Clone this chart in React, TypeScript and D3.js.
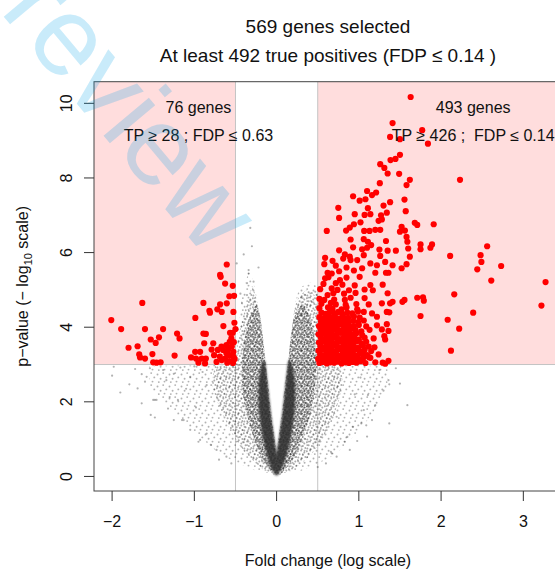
import React from "react";
import * as d3 from "d3";

// ---------- data ----------
const xTicks = [-2, -1, 0, 1, 2, 3];
const yTicks = [0, 2, 4, 6, 8, 10];
const xTickLabels = ["\u22122", "\u22121", "0", "1", "2", "3"];
const yTickLabels = ["0", "2", "4", "6", "8", "10"];
const fcCut = [-0.5, 0.5];
const pCut = 3;

const titleLines = ["569 genes selected", "At least 492 true positives (FDP \u2264 0.14 )"];
const leftNote = ["76 genes", "TP \u2265 28 ; FDP \u2264 0.63"];
const rightNote = ["493 genes", "TP \u2265 426 ;  FDP \u2264 0.14"];
const xLabel = "Fold change (log scale)";

// red (selected) genes: [log fold change, -log10 p]
const redLeft: [number, number][] = [
  [-0.606, 5.68], [-0.687, 5.4], [-0.68, 5.35], [-0.626, 5.17], [-0.533, 5.11], [-0.574, 4.83], [-0.517, 4.84],
  [-1.633, 4.65], [-0.89, 4.65], [-0.687, 4.61], [-0.606, 4.64], [-0.72, 4.48], [-0.667, 4.41], [-0.817, 4.44],
  [-0.81, 4.39], [-0.525, 4.41], [-0.988, 4.25], [-2.01, 4.19], [-0.513, 4.12], [-0.647, 4.03], [-1.89, 3.95],
  [-1.6, 3.95], [-1.38, 3.95], [-1.21, 3.83], [-1.18, 3.7], [-1.43, 3.73], [-1.53, 3.67], [-1.47, 3.58],
  [-0.89, 3.83], [-0.86, 3.82], [-0.566, 3.85], [-0.533, 3.85], [-1.8, 3.45], [-1.67, 3.27], [-1.66, 3.19],
  [-1.6, 3.16], [-1.5, 3.06], [-1.46, 3.05], [-1.41, 3.06], [-1.24, 3.24], [-0.77, 3.57], [-0.88, 3.57],
  [-0.99, 3.34], [-0.93, 3.34], [-1.04, 3.19], [-0.98, 3.16], [-0.91, 3.16], [-0.86, 3.16], [-0.95, 3.05],
  [-0.87, 3.03], [-0.79, 3.4], [-0.73, 3.07], [-0.69, 3.21], [-0.65, 3.39], [-0.67, 3.48], [-0.61, 3.52],
  [-0.57, 3.61], [-0.545, 3.48], [-0.59, 3.39], [-0.61, 3.3], [-0.57, 3.25], [-0.525, 3.21], [-0.626, 3.16],
  [-0.667, 3.12], [-0.574, 3.09], [-0.525, 3.34], [-0.715, 3.39], [-0.53, 3.04], [-0.55, 3.7], [-0.6, 3.05],
  [-0.76, 3.25], [-0.52, 3.6], [-1.69, 3.49], [-1.51, 3.28], [-0.5, 3.95], [-0.51, 3.15]
];

const redRight: [number, number][] = [
  // sparse upper part
  [1.63, 10.17], [1.41, 9.47], [1.77, 9.28], [1.38, 9.1], [1.5, 9.04], [1.84, 8.92], [1.5, 8.62], [1.445, 8.51],
  [1.385, 8.48], [1.26, 8.37], [1.31, 8.27], [1.35, 8.12], [1.49, 8.11], [1.62, 7.95], [1.58, 7.81], [1.255, 7.86],
  [2.23, 7.95], [0.93, 7.51], [1.1, 7.65], [1.16, 7.54], [1.21, 7.61], [1.01, 7.39], [1.08, 7.43], [1.38, 7.35],
  [1.555, 7.42], [1.3, 7.26], [0.75, 7.2], [1.11, 7.19], [1.57, 7.11], [1.34, 7.07], [0.95, 7.03], [1.07, 7.01],
  [1.14, 7.03], [1.27, 7.0], [0.76, 6.93], [1.28, 6.89], [1.24, 6.85], [1.02, 6.81], [1.68, 6.8], [1.71, 6.74],
  [1.91, 6.76], [0.61, 6.58], [0.845, 6.59], [0.89, 6.67], [0.94, 6.76], [1.065, 6.58], [1.13, 6.58], [1.2, 6.61],
  [1.26, 6.61], [1.5, 6.56], [1.52, 6.69], [1.56, 6.59], [1.58, 6.42], [0.9, 6.35], [1.06, 6.36], [1.11, 6.29],
  [1.33, 6.31], [1.59, 6.29], [1.75, 6.22], [1.89, 6.22], [2.56, 6.17], [0.76, 6.06], [0.83, 5.95], [0.93, 6.14],
  [1.04, 6.09], [1.1, 6.13], [1.15, 6.2], [1.25, 6.08], [1.35, 6.05], [1.45, 6.05], [1.6, 6.11], [1.75, 6.09],
  [1.87, 6.13], [2.11, 5.91], [2.48, 5.93], [0.59, 5.86],
  [2.49, 5.75], [2.44, 5.55], [2.73, 5.64], [2.61, 5.25], [3.27, 5.21], [2.16, 4.88], [3.22, 4.58], [2.39, 4.39],
  [2.08, 4.2], [2.22, 3.96], [2.12, 3.37], [1.75, 4.3], [1.71, 4.79], [1.79, 4.71], [1.78, 4.8], [1.555, 4.73],
  [1.53, 4.68], [1.41, 4.68], [1.38, 4.64], [1.35, 4.91], [1.29, 5.14], [1.36, 5.46], [1.33, 5.46], [1.2, 5.46],
  [1.52, 5.58], [1.58, 5.69], [1.62, 5.89], [1.41, 5.66], [1.32, 5.75], [1.26, 5.91], [1.06, 5.93], [1.14, 5.71],
  [1.22, 5.66], [0.98, 5.8], [0.58, 5.69], [0.67, 5.44], [0.59, 5.31], [0.77, 5.26], [0.81, 5.84],
  [0.89, 5.89], [1.14, 5.13], [1.17, 4.99], [1.28, 4.64], [1.34, 4.41], [1.37, 4.4], [1.22, 4.28], [1.16, 4.37],
  [1.06, 4.41], [1.12, 4.61], [1.34, 4.08], [1.28, 3.94], [1.36, 3.9], [1.31, 3.76], [1.32, 3.67], [1.19, 3.46],
  [1.14, 3.18], [1.36, 3.1], [1.32, 3.02],
  // dense block near the thresholds
  [0.52, 3.04], [0.565, 3.07], [0.61, 3.03], [0.655, 3.06], [0.7, 3.05], [0.745, 3.08], [0.79, 3.03], [0.835, 3.06],
  [0.88, 3.04], [0.925, 3.07], [0.97, 3.05], [1.02, 3.09], [1.08, 3.04], [1.2, 3.06], [1.29, 3.05],
  [0.505, 3.15], [0.545, 3.18], [0.59, 3.14], [0.635, 3.17], [0.68, 3.13], [0.725, 3.16], [0.77, 3.19], [0.815, 3.14],
  [0.86, 3.17], [0.905, 3.15], [0.95, 3.18], [0.995, 3.13], [1.05, 3.16], [1.12, 3.2],
  [0.53, 3.27], [0.575, 3.24], [0.62, 3.28], [0.665, 3.25], [0.71, 3.29], [0.755, 3.24], [0.8, 3.27], [0.845, 3.25],
  [0.89, 3.29], [0.94, 3.26], [0.985, 3.23], [1.04, 3.28], [1.1, 3.25], [1.24, 3.27],
  [0.51, 3.37], [0.555, 3.4], [0.6, 3.36], [0.645, 3.39], [0.69, 3.35], [0.735, 3.38], [0.78, 3.41], [0.825, 3.36],
  [0.87, 3.39], [0.915, 3.37], [0.96, 3.4], [1.01, 3.35], [1.07, 3.39], [1.15, 3.36],
  [0.535, 3.49], [0.58, 3.46], [0.625, 3.5], [0.67, 3.47], [0.715, 3.51], [0.76, 3.46], [0.805, 3.49], [0.85, 3.47],
  [0.895, 3.51], [0.94, 3.48], [0.99, 3.45], [1.05, 3.5], [1.12, 3.48],
  [0.515, 3.59], [0.56, 3.62], [0.605, 3.58], [0.65, 3.61], [0.695, 3.57], [0.74, 3.6], [0.785, 3.63], [0.83, 3.58],
  [0.875, 3.61], [0.92, 3.59], [0.97, 3.62], [1.03, 3.57], [1.09, 3.61],
  [0.54, 3.71], [0.585, 3.68], [0.63, 3.72], [0.675, 3.69], [0.72, 3.73], [0.765, 3.68], [0.81, 3.71], [0.855, 3.69],
  [0.9, 3.73], [0.95, 3.7], [1.0, 3.67], [1.07, 3.72], [1.18, 3.7],
  [0.51, 3.81], [0.555, 3.84], [0.6, 3.8], [0.645, 3.83], [0.69, 3.79], [0.735, 3.82], [0.78, 3.85], [0.825, 3.8],
  [0.87, 3.83], [0.92, 3.81], [0.97, 3.84], [1.04, 3.79],
  [0.535, 3.93], [0.58, 3.9], [0.625, 3.94], [0.67, 3.91], [0.715, 3.95], [0.76, 3.9], [0.805, 3.93], [0.855, 3.91],
  [0.9, 3.95], [0.96, 3.92], [1.03, 3.89], [1.13, 3.93],
  [0.515, 4.03], [0.56, 4.06], [0.605, 4.02], [0.65, 4.05], [0.695, 4.01], [0.74, 4.04], [0.79, 4.07], [0.835, 4.02],
  [0.88, 4.05], [0.94, 4.03], [1.0, 4.06], [1.09, 4.02], [1.22, 4.05],
  [0.54, 4.15], [0.585, 4.12], [0.63, 4.16], [0.68, 4.13], [0.725, 4.17], [0.77, 4.12], [0.82, 4.15], [0.87, 4.13],
  [0.93, 4.17], [0.99, 4.14], [1.06, 4.18],
  [0.52, 4.27], [0.57, 4.24], [0.615, 4.28], [0.665, 4.25], [0.71, 4.29], [0.76, 4.24], [0.81, 4.27], [0.87, 4.25],
  [0.94, 4.29], [1.01, 4.26],
  [0.545, 4.39], [0.595, 4.36], [0.645, 4.4], [0.7, 4.37], [0.75, 4.41], [0.8, 4.36], [0.86, 4.39], [0.92, 4.37],
  [0.99, 4.42],
  [0.52, 4.51], [0.625, 4.53], [0.68, 4.49], [0.79, 4.48], [0.85, 4.53], [0.98, 4.48],
  [0.545, 4.63], [0.66, 4.65], [0.72, 4.61], [0.84, 4.6], [0.97, 4.62],
  [0.52, 4.76], [0.58, 4.73], [0.7, 4.74], [0.83, 4.73], [0.9, 4.79], [1.07, 4.78],
  [0.62, 4.86], [0.69, 4.91], [0.82, 4.9], [0.96, 4.92],
  [0.53, 5.02], [0.67, 5.04], [0.74, 5.0], [0.88, 4.99], [1.07, 5.01],
  [0.57, 5.16], [0.72, 5.18], [0.8, 5.14], [0.95, 5.12],
  [0.63, 5.34], [0.85, 5.33], [1.01, 5.35],
  [0.62, 5.46], [0.76, 5.5], [0.94, 5.52],
  [0.72, 5.65], [0.85, 5.6], [1.04, 5.58],
  [0.68, 5.78], [0.9, 5.8]
];

// grey (non-selected) genes as density bands: [p, fcLow, fcHigh]
const coreLeft: [number, number, number][] = [
  [0.03, -0.015, 0.01], [0.3, -0.08, 0.02], [0.6, -0.12, 0.0], [0.9, -0.155, -0.02], [1.2, -0.18, -0.04],
  [1.6, -0.205, -0.065], [2.0, -0.22, -0.085], [2.4, -0.22, -0.105], [2.8, -0.2, -0.125], [3.1, -0.17, -0.14]
];
const coreRight: [number, number, number][] = [
  [0.03, -0.01, 0.015], [0.3, -0.02, 0.08], [0.6, 0, 0.125], [0.9, 0.02, 0.16], [1.2, 0.04, 0.185],
  [1.6, 0.065, 0.21], [2.0, 0.085, 0.225], [2.4, 0.105, 0.225], [2.8, 0.125, 0.205], [3.1, 0.14, 0.175]
];
const denseLeft: [number, number, number][] = [
  [0.05, -0.04, 0], [0.4, -0.16, 0], [0.8, -0.24, -0.02], [1.2, -0.3, -0.04], [1.6, -0.35, -0.07],
  [2.0, -0.39, -0.09], [2.5, -0.42, -0.11], [3.0, -0.42, -0.13], [3.5, -0.4, -0.155], [4.0, -0.36, -0.18],
  [4.3, -0.32, -0.2], [4.6, -0.26, -0.24]
];
const denseRight: [number, number, number][] = [
  [0.05, 0, 0.05], [0.4, 0, 0.18], [0.8, 0.02, 0.27], [1.2, 0.04, 0.34], [1.6, 0.07, 0.4],
  [2.0, 0.09, 0.44], [2.5, 0.11, 0.47], [3.0, 0.14, 0.48], [3.5, 0.16, 0.47], [4.0, 0.19, 0.44],
  [4.3, 0.22, 0.4], [4.6, 0.3, 0.33]
];
const bodyLeft: [number, number, number][] = [
  [0.1, -0.12, 0], [0.5, -0.32, 0], [1.0, -0.5, -0.02], [1.5, -0.62, -0.05], [2.0, -0.72, -0.08],
  [2.5, -0.78, -0.1], [2.95, -0.75, -0.13], [3.0, -0.5, -0.135], [3.5, -0.48, -0.16], [4.0, -0.44, -0.19],
  [4.5, -0.38, -0.22], [4.8, -0.34, -0.25], [5.1, -0.3, -0.29]
];
const bodyRight: [number, number, number][] = [
  [0.1, 0, 0.14], [0.5, 0, 0.38], [1.0, 0.02, 0.55], [1.5, 0.05, 0.67], [2.0, 0.08, 0.75],
  [2.5, 0.1, 0.8], [2.95, 0.13, 0.78], [3.0, 0.135, 0.5], [3.5, 0.16, 0.5], [4.0, 0.19, 0.5],
  [4.5, 0.22, 0.49], [4.8, 0.27, 0.47], [5.0, 0.36, 0.42]
];
const haloLeft: [number, number, number][] = [
  [0.15, -0.25, 0], [0.5, -0.6, 0], [1.0, -0.9, -0.02], [1.5, -1.15, -0.05], [2.0, -1.38, -0.08],
  [2.5, -1.55, -0.1], [2.95, -1.55, -0.13], [3.0, -0.5, -0.135], [4.0, -0.47, -0.19], [5.0, -0.4, -0.26],
  [5.5, -0.34, -0.32]
];
const haloRight: [number, number, number][] = [
  [0.15, 0, 0.3], [0.5, 0, 0.64], [1.0, 0.02, 0.9], [1.5, 0.05, 1.1], [2.0, 0.08, 1.25],
  [2.5, 0.1, 1.35], [2.95, 0.13, 1.35], [3.0, 0.135, 0.5], [4.0, 0.19, 0.5], [5.0, 0.27, 0.49], [5.2, 0.4, 0.46]
];
// individually visible grey genes
const greyPoints: [number, number][] = [
  [-1.98, 2.94], [-1.17, 2.92], [-2.0, 2.7], [-1.9, 2.25], [-1.79, 2.47], [-1.64, 2.74], [-1.58, 2.67], [-1.6, 2.54],
  [-1.69, 2.36], [-1.64, 1.96], [-1.5, 2.05], [-1.46, 2.05], [-1.54, 2.9], [-1.53, 1.65], [-1.48, 1.58], [-1.32, 1.82],
  [-1.25, 1.51], [-1.15, 1.51], [-0.95, 0.93], [-1.34, 2.58], [-1.3, 2.13], [-1.48, 2.05], [-1.13, 1.51], [-0.93, 0.98],
  [-0.73, 0.71], [-0.61, 0.53], [-1.05, 2.67], [-1.38, 2.85], [-1.72, 2.88], [-1.25, 2.75], [-1.1, 2.35], [-1.2, 2.05],
  [-0.98, 1.85], [-1.05, 1.25], [-0.85, 1.15], [-0.8, 0.85], [-0.9, 2.8], [-0.85, 2.45], [-1.0, 2.95], [-0.7, 0.45],
  [-0.55, 0.35],
  [1.37, 1.42], [1.59, 1.91], [1.37, 2.47], [1.5, 2.49], [1.2, 1.91], [1.03, 1.42], [1.09, 1.37], [1.16, 1.51],
  [0.83, 0.93], [0.73, 0.53], [0.66, 0.66], [0.86, 1.06], [1.11, 2.18], [1.36, 2.58], [1.06, 1.78], [1.1, 1.07],
  [0.89, 0.71], [0.73, 1.6], [0.93, 1.33], [0.67, 0.62], [1.25, 2.85], [1.45, 2.9], [1.02, 2.65], [0.95, 2.2],
  [1.3, 2.3], [0.98, 0.95], [0.6, 0.35], [0.5, 0.25],
  [-0.32, 6.66], [-0.3, 6.17], [-0.34, 5.53], [-0.28, 5.22], [-0.36, 4.86], [-0.32, 4.72], [-0.26, 4.68], [0.325, 4.5],
  [0.37, 4.59], [0.47, 4.95], [0.49, 4.86], [0.245, 4.24], [-0.485, 5.71], [-0.34, 5.44], [-0.36, 5.18], [-0.44, 4.9],
  [-0.42, 4.64], [-0.36, 4.28], [-0.4, 5.95], [-0.22, 5.6], [0.3, 4.8], [0.42, 4.7]
];

// ---------- layout ----------
const W = 555;
const H = 570;
const plot = { left: 94, right: 562, top: 81.7, bottom: 491 };
const FONT = "'Liberation Sans', Arial, Helvetica, sans-serif";

const x = d3.scaleLinear().domain([-2.22, 3.47]).range([plot.left, plot.right]);
const y = d3.scaleLinear().domain([-0.39, 10.58]).range([plot.bottom, plot.top]);

const band = d3
  .area<[number, number, number]>()
  .y((d) => y(d[0]))
  .x0((d) => x(d[1]))
  .x1((d) => x(d[2]))
  .curve(d3.curveMonotoneY);

const haloDots = [[1.5, 2.5], [7.2, 1.1], [4.6, 6.8], [10.3, 5.4], [2.8, 10.1], [8.5, 9.6]];
const bodyDots = [[0.8, 1.2], [4.1, 0.6], [7.3, 2.4], [2.6, 4.2], [5.9, 5.1], [8.4, 7.0], [1.3, 7.6], [4.7, 8.3]];
const denseDots = [[0.9, 0.8], [3.6, 1.5], [6.1, 0.4], [2.2, 3.4], [5.0, 3.9], [0.6, 5.6], [3.4, 6.1], [6.3, 5.8]];

export default function App() {
  const cx = (plot.left + plot.right) / 2;
  const [xMin, xMax] = x.domain();
  const [yMin, yMax] = y.domain();
  return (
    <svg
      width={W}
      height={H}
      viewBox={`0 0 ${W} ${H}`}
      style={{ position: "absolute", left: 0, top: 0, background: "#fff" }}
      fontFamily={FONT}
    >
      <defs>
        <clipPath id="plotClip">
          <rect x={plot.left} y={plot.top} width={plot.right - plot.left} height={plot.bottom - plot.top} />
        </clipPath>
        <pattern id="pHalo" width="12" height="12" patternUnits="userSpaceOnUse">
          {haloDots.map((p, i) => (
            <circle key={i} cx={p[0]} cy={p[1]} r="0.95" fill="#000" fillOpacity="0.3" />
          ))}
        </pattern>
        <pattern id="pBody" width="9" height="9" patternUnits="userSpaceOnUse">
          {bodyDots.map((p, i) => (
            <circle key={i} cx={p[0]} cy={p[1]} r="1" fill="#000" fillOpacity="0.33" />
          ))}
        </pattern>
        <pattern id="pDense" width="7" height="7" patternUnits="userSpaceOnUse">
          {denseDots.map((p, i) => (
            <circle key={i} cx={p[0]} cy={p[1]} r="1.1" fill="#000" fillOpacity="0.45" />
          ))}
        </pattern>
        <filter id="soft" x="-20%" y="-5%" width="140%" height="110%">
          <feGaussianBlur stdDeviation="0.8" />
        </filter>
      </defs>

      <g clipPath="url(#plotClip)">
        {/* selection regions */}
        <rect x={x(xMin)} y={y(yMax)} width={x(fcCut[0]) - x(xMin)} height={y(pCut) - y(yMax)} fill="#ffdddd" />
        <rect x={x(fcCut[1])} y={y(yMax)} width={x(xMax) - x(fcCut[1])} height={y(pCut) - y(yMax)} fill="#ffdddd" />
        {/* threshold lines */}
        <line x1={x(fcCut[0])} x2={x(fcCut[0])} y1={y(yMin)} y2={y(yMax)} stroke="#c4c4c4" />
        <line x1={x(fcCut[1])} x2={x(fcCut[1])} y1={y(yMin)} y2={y(yMax)} stroke="#c4c4c4" />
        <line x1={x(xMin)} x2={x(xMax)} y1={y(pCut)} y2={y(pCut)} stroke="#c4c4c4" />

        {/* grey genes */}
        <path d={band(haloLeft) || ""} fill="url(#pHalo)" />
        <path d={band(haloRight) || ""} fill="url(#pHalo)" />
        <path d={band(bodyLeft) || ""} fill="url(#pBody)" />
        <path d={band(bodyRight) || ""} fill="url(#pBody)" />
        <path d={band(denseLeft) || ""} fill="url(#pDense)" />
        <path d={band(denseRight) || ""} fill="url(#pDense)" />
        <g filter="url(#soft)" opacity={0.88}>
          <path d={band(coreLeft) || ""} fill="#2e2e2e" />
          <path d={band(coreRight) || ""} fill="#2e2e2e" />
        </g>
        {greyPoints.map((d, i) => (
          <circle key={"g" + i} cx={x(d[0])} cy={y(d[1])} r={1.1} fill="#000" fillOpacity={0.3} />
        ))}

        {/* selected genes */}
        {redLeft.concat(redRight).map((d, i) => (
          <circle key={"r" + i} cx={x(d[0])} cy={y(d[1])} r={3.1} fill="#ff0000" />
        ))}
      </g>

      {/* box */}
      <rect
        x={plot.left}
        y={plot.top}
        width={plot.right - plot.left}
        height={plot.bottom - plot.top}
        fill="none"
        stroke="#444"
        strokeWidth={1}
      />

      {/* x axis */}
      {xTicks.map((t, i) => (
        <g key={"xt" + i}>
          <line x1={x(t)} x2={x(t)} y1={plot.bottom} y2={plot.bottom + 10} stroke="#333" />
          <text x={x(t)} y={527} fontSize={16} textAnchor="middle" fill="#111">
            {xTickLabels[i]}
          </text>
        </g>
      ))}
      {/* y axis */}
      {yTicks.map((t, i) => (
        <g key={"yt" + i}>
          <line x1={plot.left - 10} x2={plot.left} y1={y(t)} y2={y(t)} stroke="#333" />
          <text transform={`translate(71.5,${y(t)}) rotate(-90)`} fontSize={16} textAnchor="middle" fill="#111">
            {yTickLabels[i]}
          </text>
        </g>
      ))}

      {/* axis titles */}
      <text x={cx} y={566} fontSize={16} textAnchor="middle" fill="#111">
        {xLabel}
      </text>
      <text
        transform={`translate(28,${(plot.top + plot.bottom) / 2}) rotate(-90)`}
        fontSize={16}
        textAnchor="middle"
        fill="#111"
      >
        <tspan>{"p\u2212value (\u2212 log"}</tspan>
        <tspan fontSize={11} dy={4}>10</tspan>
        <tspan dy={-4}>{" scale)"}</tspan>
      </text>

      {/* title */}
      <text x={cx} y={33} fontSize={19} textAnchor="middle" fill="#111">
        {titleLines[0]}
      </text>
      <text x={cx} y={62} fontSize={19} textAnchor="middle" fill="#111">
        {titleLines[1]}
      </text>

      {/* annotations */}
      <g clipPath="url(#plotClip)">
        <text x={x(-0.95)} y={113} fontSize={16} textAnchor="middle" fill="#111">
          {leftNote[0]}
        </text>
        <text x={x(-0.95)} y={141} fontSize={16} textAnchor="middle" fill="#111" style={{ whiteSpace: "pre" }}>
          {leftNote[1]}
        </text>
        <text x={x(2.39)} y={113} fontSize={16} textAnchor="middle" fill="#111">
          {rightNote[0]}
        </text>
        <text x={x(2.39)} y={141} fontSize={16} textAnchor="middle" fill="#111" style={{ whiteSpace: "pre" }}>
          {rightNote[1]}
        </text>
      </g>

      {/* watermark */}
      <text transform="translate(-1,11) rotate(50)" x={-75} y={0} fontSize={112} fill="rgb(0,160,230)" fillOpacity={0.21}>
        Preview
      </text>
    </svg>
  );
}
